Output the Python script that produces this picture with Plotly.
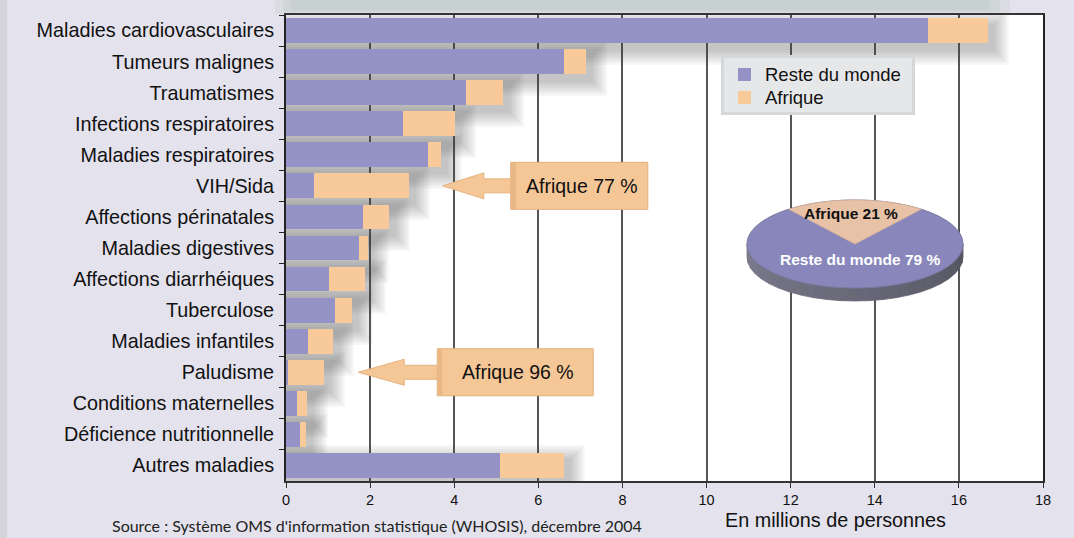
import math
import plotly.graph_objects as go

# ---------------- data ----------------
categories = [
    "Maladies cardiovasculaires", "Tumeurs malignes", "Traumatismes",
    "Infections respiratoires", "Maladies respiratoires", "VIH/Sida",
    "Affections périnatales", "Maladies digestives", "Affections diarrhéiques",
    "Tuberculose", "Maladies infantiles", "Paludisme", "Conditions maternelles",
    "Déficience nutritionnelle", "Autres maladies",
]
reste_du_monde = [15.26, 6.61, 4.28, 2.78, 3.38, 0.67, 1.83, 1.74, 1.02, 1.17,
                  0.52, 0.04, 0.26, 0.33, 5.09]
afrique = [1.43, 0.52, 0.87, 1.25, 0.31, 2.25, 0.62, 0.21, 0.86, 0.40,
           0.60, 0.87, 0.24, 0.15, 1.52]
series_names = ["Reste du monde", "Afrique"]
x_ticks = [0, 2, 4, 6, 8, 10, 12, 14, 16, 18]
callout_categories = ["VIH/Sida", "Paludisme"]
callout_texts = ["Afrique 77 %", "Afrique 96 %"]
pie_labels = ["Afrique 21 %", "Reste du monde 79 %"]
pie_shares = [21, 79]
x_title = "En millions de personnes"
source_text = "Source : Système OMS d'information statistique (WHOSIS), décembre 2004"

# ---------------- geometry / style ----------------
W, H = 1074, 538
L, R, T, B = 286, 1043, 15, 481
XMAX = 18
SX = (R - L) / XMAX
ROW = (B - T) / len(categories)

C_RESTE = "#9593c6"
C_AFR = "#f8c999"
C_BG = "#e4e2ed"
FONT = "Liberation Sans"

def pxx(x):
    return (x - L) / (R - L)

def pyy(y):
    return (B - y) / (B - T)

totals = [a + b for a, b in zip(reste_du_monde, afrique)]

fig = go.Figure()

# soft drop shadows (layers of translucent bars derived from totals)
for r in [1, 3, 5, 7, 9, 11, 13, 15]:
    wdt = (25 + 2 * r) / ROW
    fig.add_trace(go.Bar(
        y=categories, x=[t + (6 + r) / SX for t in totals], base=0,
        orientation="h", width=wdt, offset=7 / ROW - wdt / 2,
        marker=dict(color="rgba(60,60,60,0.042)", line=dict(width=0)),
        showlegend=False, hoverinfo="skip"))

fig.add_trace(go.Bar(
    y=categories, x=reste_du_monde, base=0, orientation="h",
    name=series_names[0], width=0.8, showlegend=False,
    marker=dict(color=C_RESTE, line=dict(width=0))))
fig.add_trace(go.Bar(
    y=categories, x=afrique, base=reste_du_monde, orientation="h",
    name=series_names[1], width=0.8, showlegend=False,
    marker=dict(color=C_AFR, line=dict(width=0))))

shapes = []
annotations = []

# page decorations: left frame strip and blurred shadow above plot
shapes.append(dict(type="rect", xref="paper", yref="paper",
                   x0=pxx(0), x1=pxx(7), y0=pyy(538), y1=pyy(0),
                   fillcolor="#d5d4da", line=dict(width=0), layer="below"))
for k, a in enumerate([0.25, 0.35, 0.5]):
    shapes.append(dict(type="rect", xref="paper", yref="paper",
                       x0=pxx(275 + 8 * k), x1=pxx(1010 - 10 * k),
                       y0=pyy(14 - 2 * k), y1=pyy(0),
                       fillcolor="rgba(190,204,197,%.2f)" % a,
                       line=dict(width=0), layer="below"))

# legend (drawn box)
lg_x0, lg_y0, lg_x1, lg_y1 = 721, 55, 915, 115
shapes.append(dict(type="rect", xref="paper", yref="paper",
                   x0=pxx(lg_x0), x1=pxx(lg_x1), y0=pyy(lg_y1), y1=pyy(lg_y0),
                   fillcolor="#d6d7d9", line=dict(width=0)))
shapes.append(dict(type="rect", xref="paper", yref="paper",
                   x0=pxx(lg_x0 + 3), x1=pxx(lg_x1 - 3), y0=pyy(lg_y1 - 3), y1=pyy(lg_y0 + 3),
                   fillcolor="#e6e7e8", line=dict(width=0)))
for k, (nm, col) in enumerate(zip(series_names, [C_RESTE, C_AFR])):
    yc = 74.5 + 23 * k
    shapes.append(dict(type="rect", xref="paper", yref="paper",
                       x0=pxx(738), x1=pxx(751), y0=pyy(yc + 6.5), y1=pyy(yc - 6.5),
                       fillcolor=col, line=dict(width=0)))
    annotations.append(dict(xref="paper", yref="paper", x=pxx(763), y=pyy(yc),
                            text=nm, showarrow=False, xanchor="left", yanchor="middle",
                            font=dict(family=FONT, size=18.5, color="#111111")))

# callout arrows
callout_geom = [dict(head=41, box0=68, boxw=137), dict(head=46, box0=79, boxw=156)]
for cat, txt, g in zip(callout_categories, callout_texts, callout_geom):
    i = categories.index(cat)
    ty = T + (i + 0.5) * ROW
    tx = L + totals[i] * SX + 34
    hb = tx + g["head"]
    b0 = tx + g["box0"]
    b1 = b0 + g["boxw"]
    pts = [(tx, ty), (hb, ty - 13), (hb, ty - 7), (b0 + 2, ty - 7),
           (b0 + 2, ty + 7), (hb, ty + 7), (hb, ty + 13)]
    path = "M " + " L ".join("%.5f,%.5f" % (pxx(a), pyy(b)) for a, b in pts) + " Z"
    shapes.append(dict(type="path", xref="paper", yref="paper", path=path,
                       fillcolor="#f5c797", line=dict(color="#e6b37f", width=1)))
    shapes.append(dict(type="rect", xref="paper", yref="paper",
                       x0=pxx(b0), x1=pxx(b1), y0=pyy(ty + 23.5), y1=pyy(ty - 23.5),
                       fillcolor="#f5c797", line=dict(color="#e2b07c", width=1)))
    shapes.append(dict(type="rect", xref="paper", yref="paper",
                       x0=pxx(b0), x1=pxx(b0 + 5), y0=pyy(ty + 23.5), y1=pyy(ty - 23.5),
                       fillcolor="#e9b884", line=dict(width=0)))
    annotations.append(dict(xref="paper", yref="paper",
                            x=pxx((b0 + 5 + b1) / 2), y=pyy(ty), text=txt,
                            showarrow=False, xanchor="center", yanchor="middle",
                            font=dict(family=FONT, size=19.5, color="#111111")))

# 3D pie
cx, cy, rx, ry, depth = 855, 244, 108, 44, 13

def ell(theta, dy=0):
    return cx + rx * math.sin(theta), cy - ry * math.cos(theta) + dy

N = 24
c_left = (125, 124, 142)
c_right = (85, 85, 98)
for k in range(N):
    a0 = math.pi * 1.5 - math.pi * k / N
    a1 = math.pi * 1.5 - math.pi * (k + 1) / N
    p = [ell(a0), ell(a1), ell(a1, depth), ell(a0, depth)]
    f = k / (N - 1)
    col = "rgb(%d,%d,%d)" % tuple(int(c_left[j] + (c_right[j] - c_left[j]) * f) for j in range(3))
    path = "M " + " L ".join("%.5f,%.5f" % (pxx(a), pyy(b)) for a, b in p) + " Z"
    shapes.append(dict(type="path", xref="paper", yref="paper", path=path,
                       fillcolor=col, line=dict(color=col, width=0.8)))

afr_half = math.pi * pie_shares[0] / 100.0
M = 120
ring = [ell(2 * math.pi * k / M) for k in range(M)]
path = "M " + " L ".join("%.5f,%.5f" % (pxx(a), pyy(b)) for a, b in ring) + " Z"
shapes.append(dict(type="path", xref="paper", yref="paper", path=path,
                   fillcolor="#8886bb", line=dict(color="#7a789f", width=1)))
wedge = [(cx, cy)] + [ell(-afr_half + 2 * afr_half * k / 30) for k in range(31)]
path = "M " + " L ".join("%.5f,%.5f" % (pxx(a), pyy(b)) for a, b in wedge) + " Z"
shapes.append(dict(type="path", xref="paper", yref="paper", path=path,
                   fillcolor="#e7c2a7", line=dict(color="#d9b398", width=0.8)))
annotations.append(dict(xref="paper", yref="paper", x=pxx(851), y=pyy(213),
                        text="<b>%s</b>" % pie_labels[0], showarrow=False,
                        xanchor="center", yanchor="middle",
                        font=dict(family=FONT, size=15.5, color="#111111")))
annotations.append(dict(xref="paper", yref="paper", x=pxx(860), y=pyy(259),
                        text="<b>%s</b>" % pie_labels[1], showarrow=False,
                        xanchor="center", yanchor="middle",
                        font=dict(family=FONT, size=15.5, color="#ffffff")))

# axis title and source
annotations.append(dict(xref="paper", yref="paper", x=pxx(835), y=pyy(520),
                        text=x_title, showarrow=False, xanchor="center", yanchor="middle",
                        font=dict(family=FONT, size=19.8, color="#111111")))
annotations.append(dict(xref="paper", yref="paper", x=pxx(110), y=pyy(525),
                        text=source_text, showarrow=False, xanchor="left", yanchor="middle",
                        font=dict(family="Lato", size=16, color="#222222")))

fig.update_layout(
    width=W, height=H,
    margin=dict(l=L, r=W - R, t=T, b=H - B, pad=0),
    paper_bgcolor=C_BG, plot_bgcolor="#ffffff",
    barmode="overlay", bargap=0,
    shapes=shapes, annotations=annotations,
    showlegend=False,
    xaxis=dict(range=[0, XMAX], tickvals=x_ticks, showgrid=True,
               gridcolor="#555555", gridwidth=1.5, zeroline=False,
               ticks="outside", ticklen=5, tickcolor="#333333",
               showline=True, linecolor="#333333", linewidth=2, mirror=True,
               tickfont=dict(family=FONT, size=14.5, color="#111111")),
    yaxis=dict(categoryorder="array", categoryarray=categories,
               range=[len(categories) - 0.5, -0.5], showgrid=False,
               ticks="outside", ticklen=5, tickson="boundaries", tickcolor="#222222",
               showline=True, linecolor="#222222", linewidth=2, mirror=True,
               ticklabelstandoff=6,
               tickfont=dict(family=FONT, size=19.8, color="#111111")),
    font=dict(family=FONT),
)

fig.write_html("out.html")
